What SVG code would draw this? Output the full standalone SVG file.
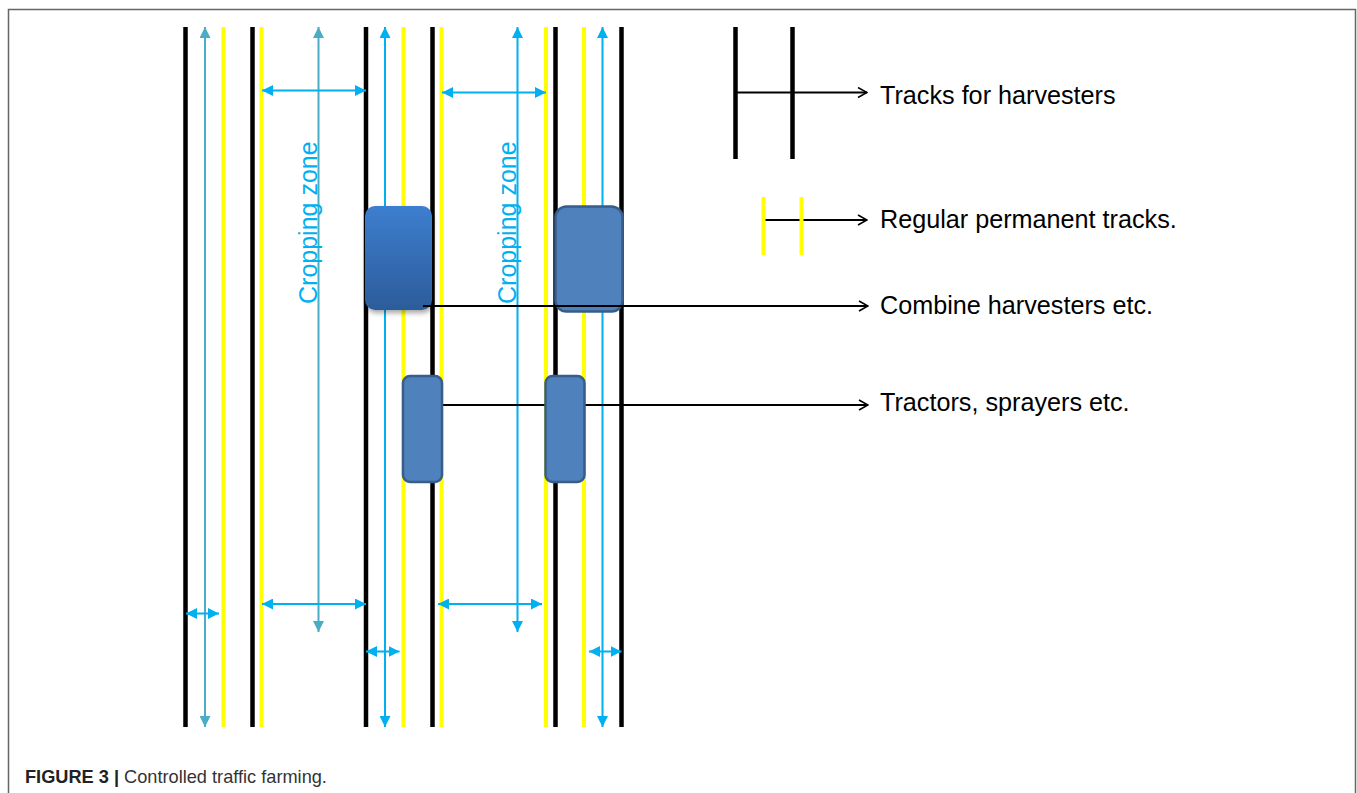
<svg xmlns="http://www.w3.org/2000/svg" width="1357" height="793" viewBox="0 0 1357 793">
<style>
.blk{stroke:#000;stroke-width:4.5;fill:none}
.yel{stroke:#FFFF00;stroke-width:4;fill:none}
.teal{stroke:#4BACC6;stroke-width:2;fill:none}
.blue{stroke:#00B0F0;stroke-width:2;fill:none}
.conn{stroke:#000;stroke-width:2;fill:none}
.lbl{font-family:"Liberation Sans",Arial,sans-serif;font-size:25.2px;fill:#000}
.crop{font-family:"Liberation Sans",Arial,sans-serif;font-size:25px;fill:#00B0F0}
.veh{fill:#4F81BD;stroke:#385D8A;stroke-width:2.5}
</style>
<defs>
<marker id="at" viewBox="0 0 10 10" refX="10" refY="5" markerWidth="11" markerHeight="11" markerUnits="userSpaceOnUse" orient="auto-start-reverse"><path d="M0,0 L10,5 L0,10 z" fill="#4BACC6"/></marker>
<marker id="ab" viewBox="0 0 10 10" refX="10" refY="5" markerWidth="11" markerHeight="11" markerUnits="userSpaceOnUse" orient="auto-start-reverse"><path d="M0,0 L10,5 L0,10 z" fill="#00B0F0"/></marker>
<marker id="ao" viewBox="0 0 12 12" refX="11" refY="6" markerWidth="12" markerHeight="12" markerUnits="userSpaceOnUse" orient="auto"><path d="M2,1 L11,6 L2,11" fill="none" stroke="#000" stroke-width="1.6"/></marker>
<linearGradient id="gc" x1="0" y1="0" x2="0" y2="1"><stop offset="0" stop-color="#3D7ECF"/><stop offset="1" stop-color="#2C5C9A"/></linearGradient>
<filter id="sh" x="-20%" y="-20%" width="150%" height="150%"><feDropShadow dx="1" dy="3" stdDeviation="2.5" flood-color="#000" flood-opacity="0.35"/></filter>
</defs>
<rect width="1357" height="793" fill="#fff"/>
<path d="M8.5,793 V9.5 H1355.5 V793" fill="none" stroke="#666" stroke-width="1.5"/>

<g id="tracks">
<line class="blk" x1="185.5" y1="27" x2="185.5" y2="727"/>
<line class="yel" x1="223.5" y1="27" x2="223.5" y2="727"/>
<line class="blk" x1="252.5" y1="27" x2="252.5" y2="727"/>
<line class="yel" x1="261.5" y1="27" x2="261.5" y2="727"/>
<line class="blk" x1="366" y1="27" x2="366" y2="727"/>
<line class="yel" x1="403.5" y1="27" x2="403.5" y2="727"/>
<line class="blk" x1="432.5" y1="27" x2="432.5" y2="727"/>
<line class="yel" x1="441.5" y1="27" x2="441.5" y2="727"/>
<line class="yel" x1="546" y1="27" x2="546" y2="727"/>
<line class="blk" x1="555.5" y1="27" x2="555.5" y2="727"/>
<line class="yel" x1="584" y1="27" x2="584" y2="727"/>
<line class="blk" x1="621.5" y1="27" x2="621.5" y2="727"/>
</g>

<g id="dimension-arrows">
<line class="teal" x1="205" y1="727" x2="205" y2="27" marker-start="url(#at)" marker-end="url(#at)"/>
<line class="teal" x1="318.5" y1="632" x2="318.5" y2="27" marker-start="url(#at)" marker-end="url(#at)"/>
<line class="blue" x1="385" y1="727" x2="385" y2="27" marker-start="url(#ab)" marker-end="url(#ab)"/>
<line class="blue" x1="517.5" y1="632" x2="517.5" y2="27" marker-start="url(#ab)" marker-end="url(#ab)"/>
<line class="blue" x1="602.5" y1="727" x2="602.5" y2="27" marker-start="url(#ab)" marker-end="url(#ab)"/>
<line class="blue" x1="262" y1="90.5" x2="366" y2="90.5" marker-start="url(#ab)" marker-end="url(#ab)"/>
<line class="blue" x1="442" y1="92.5" x2="546" y2="92.5" marker-start="url(#ab)" marker-end="url(#ab)"/>
<line class="blue" x1="186" y1="613.5" x2="219" y2="613.5" marker-start="url(#ab)" marker-end="url(#ab)"/>
<line class="blue" x1="262" y1="604" x2="366" y2="604" marker-start="url(#ab)" marker-end="url(#ab)"/>
<line class="blue" x1="438" y1="604" x2="542" y2="604" marker-start="url(#ab)" marker-end="url(#ab)"/>
<line class="blue" x1="366" y1="651.5" x2="399.5" y2="651.5" marker-start="url(#ab)" marker-end="url(#ab)"/>
<line class="blue" x1="589" y1="651.5" x2="621.5" y2="651.5" marker-start="url(#ab)" marker-end="url(#ab)"/>
</g>

<g id="cropping-zone-1"><text class="crop" transform="translate(316.5,304) rotate(-90)">Cropping zone</text></g>
<g id="cropping-zone-2"><text class="crop" transform="translate(515.5,304) rotate(-90)">Cropping zone</text></g>

<g id="combine-1"><rect x="365" y="206" width="67" height="104" rx="10" fill="url(#gc)" filter="url(#sh)"/></g>
<g id="combine-2"><rect class="veh" x="555.5" y="206.5" width="67" height="105" rx="11"/></g>

<g id="connectors">
<line class="conn" x1="423" y1="306" x2="868" y2="306" marker-end="url(#ao)"/>
<line class="conn" x1="442" y1="405" x2="868" y2="405" marker-end="url(#ao)"/>
<line class="conn" x1="735.5" y1="92.5" x2="867" y2="92.5" marker-end="url(#ao)"/>
<line class="conn" x1="763.5" y1="220" x2="867" y2="220" marker-end="url(#ao)"/>
</g>

<g id="tractor-1"><rect class="veh" x="403" y="376" width="39" height="106" rx="7"/></g>
<g id="tractor-2"><rect class="veh" x="545.5" y="376" width="39" height="106" rx="7"/></g>

<g id="legend-harvester-tracks">
<line class="blk" x1="735.5" y1="27" x2="735.5" y2="159"/>
<line class="blk" x1="792.5" y1="27" x2="792.5" y2="159"/>
<text class="lbl" x="880" y="104">Tracks for harvesters</text>
</g>
<g id="legend-permanent-tracks">
<line class="yel" x1="763.5" y1="197" x2="763.5" y2="255"/>
<line class="yel" x1="801.5" y1="197" x2="801.5" y2="255"/>
<text class="lbl" x="880" y="228">Regular permanent tracks.</text>
</g>
<g id="legend-combine"><text class="lbl" x="880" y="314">Combine harvesters etc.</text></g>
<g id="legend-tractors"><text class="lbl" x="880" y="411">Tractors, sprayers etc.</text></g>

<g id="caption"><text x="25" y="783" font-family="'Liberation Sans',Arial,sans-serif" font-size="18.2" fill="#333"><tspan font-weight="bold" fill="#222">FIGURE 3 |</tspan> Controlled traffic farming.</text></g>
</svg>
